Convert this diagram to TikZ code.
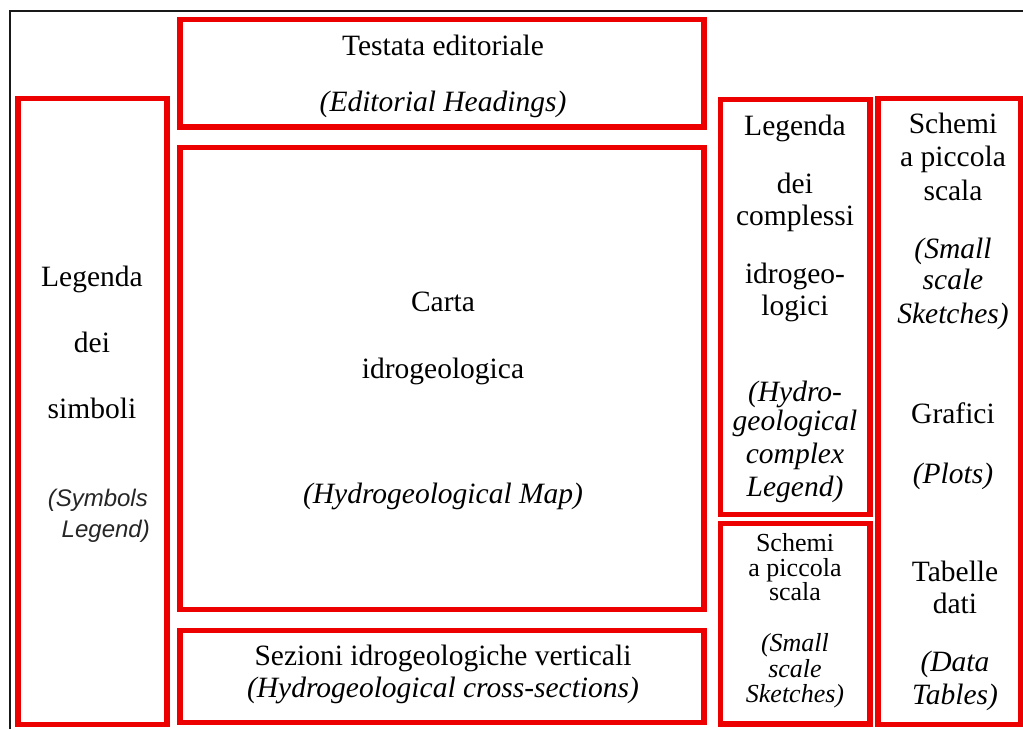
\documentclass[tikz,border=0pt]{standalone}
\usepackage{fontspec}
\setmainfont{Liberation Serif}
\newfontfamily\arialf{Liberation Sans}
\definecolor{boxred}{RGB}{236,0,0}
\begin{document}
\begin{tikzpicture}[x=1pt,y=-1pt,
  redbox/.style={draw=boxred, line width=5.5pt, inner sep=0pt, outer sep=0pt},
  tx/.style={anchor=base, inner sep=0pt, font=\fontsize{29.5pt}{30pt}\selectfont},
  it/.style={anchor=base, inner sep=0pt, font=\fontsize{29.5pt}{30pt}\selectfont\itshape},
  txs/.style={anchor=base, inner sep=0pt, font=\fontsize{26pt}{26pt}\selectfont},
  its/.style={anchor=base, inner sep=0pt, font=\fontsize{26pt}{26pt}\selectfont\itshape},
  ar/.style={anchor=base east, inner sep=0pt, font=\fontsize{24pt}{26pt}\selectfont\arialf\itshape, text=black!85}]
\useasboundingbox (0,0) rectangle (1023,729);
\fill[white] (0,0) rectangle (1023,729);
% outer frame
\draw[line width=2pt, black!90] (9.5,729) -- (9.5,10.5) -- (1023,10.5);
% boxes
\node[redbox, minimum width=524pt, minimum height=107.5pt] (testata) at (442,73.25) {};
\node[redbox, minimum width=524pt, minimum height=462pt] (carta) at (442,378.5) {};
\node[redbox, minimum width=524pt, minimum height=92pt] (sezioni) at (442,676.5) {};
\node[redbox, minimum width=149pt, minimum height=626pt] (simboli) at (92.5,411.5) {};
\node[redbox, minimum width=149.5pt, minimum height=415pt] (complessi) at (795.25,307) {};
\node[redbox, minimum width=149.5pt, minimum height=200.5pt] (schemiB) at (795.25,623.75) {};
\node[redbox, minimum width=142.5pt, minimum height=626pt] (destra) at (949.25,411.5) {};
% Testata
\node[tx] (t1) at (443,55) {Testata editoriale};
\node[it] (t2) at (443,111.7) {(Editorial Headings)};
% Carta
\node[tx] (c1) at (443,311.7) {Carta};
\node[tx] (c2) at (443,378) {idrogeologica};
\node[it] (c3) at (443,503) {(Hydrogeological Map)};
% Sezioni
\node[tx] (s1) at (443,665) {Sezioni idrogeologiche verticali};
\node[it] (s2) at (443,697) {(Hydrogeological cross-sections)};
% Left
\node[tx] (l1) at (92,286.7) {Legenda};
\node[tx] (l2) at (92,352) {dei};
\node[tx] (l3) at (92,418) {simboli};
\node[ar] (l4) at (148,506.7) {(Symbols};
\node[ar] (l5) at (150,537) {Legend)};
% Middle top
\node[tx] (m1) at (795,135) {Legenda};
\node[tx] (m2) at (795,193) {dei};
\node[tx] (m3) at (795,225) {complessi};
\node[tx] (m4) at (795,283) {idrogeo-};
\node[tx] (m5) at (795,315) {logici};
\node[it] (m6) at (795,401.7) {(Hydro-};
\node[it] (m7) at (795,430) {geological};
\node[it] (m8) at (795,463) {complex};
\node[it] (m9) at (795,496.7) {Legend)};
% Middle bottom
\node[txs] (b1) at (795,551.5) {Schemi};
\node[txs] (b2) at (795,576.7) {a piccola};
\node[txs] (b3) at (795,600.7) {scala};
\node[its] (b4) at (795,651.7) {(Small};
\node[its] (b5) at (795,677) {scale};
\node[its] (b6) at (795,702.7) {Sketches)};
% Right
\node[tx] (r1) at (953,133) {Schemi};
\node[tx] (r2) at (953,166.7) {a piccola};
\node[tx] (r3) at (953,200) {scala};
\node[it] (r4) at (953,258) {(Small};
\node[it] (r5) at (953,289) {scale};
\node[it] (r6) at (953,323) {Sketches)};
\node[tx] (r7) at (953,423) {Grafici};
\node[it] (r8) at (953,483) {(Plots)};
\node[tx] (r9) at (955,581.7) {Tabelle};
\node[tx] (r10) at (955,613) {dati};
\node[it] (r11) at (955,671.7) {(Data};
\node[it] (r12) at (955,704) {Tables)};
\end{tikzpicture}
\end{document}
